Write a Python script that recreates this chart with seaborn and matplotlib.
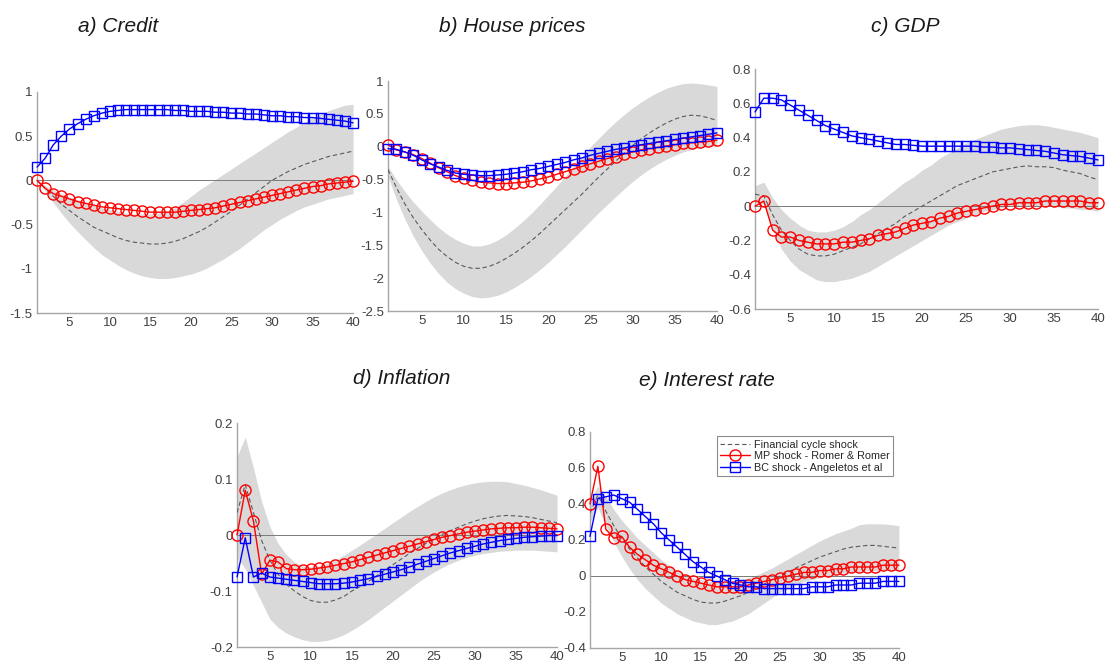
import numpy as np
import pandas as pd
import seaborn as sns
import matplotlib.pyplot as plt

# horizons
h = list(range(1, 41))

# a) Credit
credit_fc = [0.00, -0.09, -0.18, -0.27, -0.34, -0.41, -0.47, -0.53, -0.57, -0.61,
             -0.65, -0.68, -0.70, -0.71, -0.72, -0.72, -0.71, -0.69, -0.66, -0.62,
             -0.58, -0.53, -0.47, -0.41, -0.35, -0.28, -0.21, -0.14, -0.07, 0.00,
             0.05, 0.10, 0.14, 0.18, 0.21, 0.24, 0.27, 0.29, 0.31, 0.33]
credit_lo = [0.00, -0.12, -0.25, -0.37, -0.48, -0.58, -0.67, -0.76, -0.84, -0.90,
             -0.96, -1.01, -1.05, -1.08, -1.10, -1.11, -1.11, -1.10, -1.08, -1.06,
             -1.03, -0.99, -0.94, -0.89, -0.83, -0.77, -0.70, -0.63, -0.56, -0.50,
             -0.44, -0.39, -0.34, -0.30, -0.27, -0.24, -0.21, -0.19, -0.17, -0.15]
credit_hi = [0.00, -0.06, -0.11, -0.15, -0.19, -0.22, -0.25, -0.28, -0.31, -0.33,
             -0.35, -0.37, -0.38, -0.38, -0.38, -0.37, -0.35, -0.31, -0.25, -0.18,
             -0.11, -0.05, 0.01, 0.07, 0.13, 0.19, 0.25, 0.31, 0.37, 0.43,
             0.49, 0.55, 0.60, 0.66, 0.71, 0.75, 0.79, 0.82, 0.85, 0.86]
credit_mp = [0.00, -0.09, -0.15, -0.18, -0.21, -0.24, -0.26, -0.28, -0.30, -0.31,
             -0.32, -0.33, -0.34, -0.35, -0.36, -0.36, -0.36, -0.36, -0.35, -0.34,
             -0.33, -0.32, -0.31, -0.29, -0.27, -0.25, -0.23, -0.21, -0.19, -0.17,
             -0.15, -0.13, -0.11, -0.09, -0.07, -0.06, -0.04, -0.03, -0.02, -0.01]
credit_bc = [0.15, 0.25, 0.40, 0.50, 0.58, 0.64, 0.69, 0.73, 0.76, 0.78,
             0.79, 0.80, 0.80, 0.80, 0.80, 0.80, 0.80, 0.79, 0.79, 0.78,
             0.78, 0.78, 0.77, 0.77, 0.76, 0.76, 0.75, 0.75, 0.74, 0.73,
             0.73, 0.72, 0.72, 0.71, 0.71, 0.70, 0.69, 0.68, 0.67, 0.65]

# b) House prices
house_fc = [-0.35, -0.62, -0.87, -1.08, -1.26, -1.42, -1.56, -1.67, -1.76, -1.82,
            -1.85, -1.85, -1.82, -1.77, -1.70, -1.62, -1.53, -1.43, -1.32, -1.20,
            -1.08, -0.96, -0.84, -0.72, -0.59, -0.46, -0.34, -0.22, -0.10, 0.02,
            0.12, 0.21, 0.29, 0.36, 0.42, 0.46, 0.48, 0.47, 0.44, 0.40]
house_lo = [-0.45, -0.80, -1.10, -1.36, -1.58, -1.77, -1.93, -2.06, -2.16, -2.23,
            -2.28, -2.30, -2.29, -2.26, -2.21, -2.14, -2.06, -1.97, -1.87, -1.76,
            -1.64, -1.52, -1.39, -1.26, -1.13, -1.00, -0.88, -0.76, -0.64, -0.53,
            -0.43, -0.34, -0.26, -0.19, -0.13, -0.08, -0.04, -0.01, 0.00, 0.00]
house_hi = [-0.30, -0.50, -0.68, -0.84, -0.98, -1.11, -1.23, -1.33, -1.41, -1.47,
            -1.51, -1.51, -1.48, -1.42, -1.34, -1.24, -1.13, -1.01, -0.88, -0.74,
            -0.60, -0.45, -0.30, -0.15, 0.00, 0.13, 0.26, 0.38, 0.49, 0.59,
            0.68, 0.76, 0.83, 0.89, 0.93, 0.96, 0.97, 0.96, 0.94, 0.92]
house_mp = [0.03, -0.05, -0.08, -0.12, -0.18, -0.25, -0.32, -0.38, -0.44, -0.48,
            -0.51, -0.54, -0.55, -0.56, -0.56, -0.55, -0.54, -0.52, -0.49, -0.46,
            -0.42, -0.38, -0.34, -0.30, -0.26, -0.22, -0.18, -0.15, -0.11, -0.08,
            -0.05, -0.03, -0.01, 0.01, 0.03, 0.05, 0.06, 0.07, 0.08, 0.10]
house_bc = [-0.03, -0.04, -0.08, -0.13, -0.20, -0.26, -0.31, -0.36, -0.40, -0.42,
            -0.43, -0.44, -0.44, -0.43, -0.42, -0.40, -0.38, -0.35, -0.33, -0.30,
            -0.27, -0.24, -0.20, -0.17, -0.13, -0.10, -0.07, -0.04, -0.02, 0.01,
            0.03, 0.05, 0.07, 0.09, 0.11, 0.13, 0.15, 0.17, 0.19, 0.21]

# c) GDP
gdp_fc = [0.07, 0.06, -0.05, -0.14, -0.20, -0.25, -0.28, -0.29, -0.29, -0.28,
          -0.26, -0.24, -0.22, -0.19, -0.16, -0.13, -0.10, -0.06, -0.03, 0.00,
          0.03, 0.06, 0.09, 0.12, 0.14, 0.16, 0.18, 0.20, 0.21, 0.22,
          0.23, 0.235, 0.23, 0.23, 0.225, 0.21, 0.20, 0.19, 0.17, 0.155]
gdp_lo = [0.02, 0.01, -0.14, -0.25, -0.32, -0.37, -0.40, -0.43, -0.44, -0.44,
          -0.43, -0.42, -0.40, -0.38, -0.35, -0.32, -0.29, -0.26, -0.23, -0.20,
          -0.17, -0.14, -0.11, -0.09, -0.07, -0.05, -0.03, -0.02, -0.01, 0.00,
          0.00, 0.00, 0.00, 0.00, 0.00, -0.01, -0.01, -0.02, -0.02, -0.03]
gdp_hi = [0.12, 0.14, 0.05, -0.02, -0.07, -0.11, -0.14, -0.15, -0.15, -0.14,
          -0.12, -0.09, -0.05, -0.02, 0.02, 0.06, 0.10, 0.14, 0.17, 0.21,
          0.24, 0.28, 0.31, 0.34, 0.37, 0.39, 0.41, 0.43, 0.45, 0.46,
          0.47, 0.475, 0.475, 0.47, 0.46, 0.45, 0.44, 0.43, 0.415, 0.40]
gdp_mp = [0.00, 0.03, -0.14, -0.18, -0.18, -0.20, -0.21, -0.22, -0.22, -0.22,
          -0.21, -0.21, -0.20, -0.19, -0.17, -0.16, -0.15, -0.13, -0.11, -0.10,
          -0.09, -0.07, -0.06, -0.04, -0.03, -0.02, -0.01, 0.00, 0.01, 0.01,
          0.02, 0.02, 0.02, 0.03, 0.03, 0.03, 0.03, 0.03, 0.02, 0.02]
gdp_bc = [0.55, 0.63, 0.63, 0.62, 0.59, 0.56, 0.53, 0.50, 0.47, 0.45,
          0.43, 0.41, 0.40, 0.39, 0.38, 0.37, 0.36, 0.36, 0.355, 0.35,
          0.35, 0.35, 0.35, 0.35, 0.35, 0.35, 0.345, 0.345, 0.34, 0.34,
          0.335, 0.33, 0.325, 0.32, 0.31, 0.30, 0.295, 0.29, 0.28, 0.27]

# d) Inflation
infl_fc = [0.04, 0.09, 0.04, -0.01, -0.045, -0.07, -0.088, -0.10, -0.11, -0.117,
           -0.12, -0.12, -0.116, -0.11, -0.10, -0.092, -0.083, -0.073, -0.063, -0.053,
           -0.043, -0.033, -0.024, -0.015, -0.007, 0.001, 0.008, 0.014, 0.020, 0.025,
           0.029, 0.032, 0.034, 0.035, 0.034, 0.033, 0.031, 0.028, 0.025, 0.022]
infl_lo = [-0.04, -0.06, -0.09, -0.12, -0.15, -0.165, -0.175, -0.182, -0.187, -0.19,
           -0.19, -0.188, -0.184, -0.178, -0.17, -0.161, -0.151, -0.14, -0.129, -0.118,
           -0.107, -0.096, -0.085, -0.075, -0.066, -0.058, -0.051, -0.045, -0.040, -0.036,
           -0.033, -0.031, -0.029, -0.028, -0.027, -0.027, -0.027, -0.028, -0.029, -0.030]
infl_hi = [0.14, 0.175, 0.12, 0.06, 0.015, -0.015, -0.035, -0.048, -0.055, -0.057,
           -0.055, -0.05, -0.044, -0.036, -0.027, -0.018, -0.008, 0.002, 0.012, 0.022,
           0.032, 0.042, 0.051, 0.06, 0.068, 0.075, 0.081, 0.086, 0.090, 0.093,
           0.095, 0.096, 0.096, 0.095, 0.092, 0.089, 0.085, 0.081, 0.076, 0.071]
infl_mp = [0.00, 0.08, 0.025, -0.07, -0.045, -0.048, -0.06, -0.062, -0.062, -0.061,
           -0.059, -0.057, -0.054, -0.051, -0.048, -0.044, -0.040, -0.036, -0.032, -0.028,
           -0.024, -0.020, -0.016, -0.012, -0.008, -0.004, -0.001, 0.002, 0.005, 0.007,
           0.009, 0.011, 0.012, 0.013, 0.013, 0.014, 0.014, 0.013, 0.012, 0.011]
infl_bc = [-0.075, -0.005, -0.075, -0.068, -0.075, -0.077, -0.079, -0.081, -0.083, -0.085,
           -0.087, -0.087, -0.087, -0.086, -0.084, -0.081, -0.078, -0.074, -0.070, -0.066,
           -0.062, -0.057, -0.052, -0.047, -0.042, -0.037, -0.032, -0.028, -0.024, -0.020,
           -0.016, -0.013, -0.010, -0.008, -0.006, -0.004, -0.003, -0.002, -0.001, -0.001]

# e) Interest rate
rate_fc = [0.35, 0.45, 0.36, 0.28, 0.21, 0.15, 0.10, 0.05, 0.01, -0.03,
           -0.06, -0.09, -0.11, -0.13, -0.145, -0.15, -0.15, -0.14, -0.125, -0.11,
           -0.09, -0.07, -0.045, -0.02, 0.00, 0.02, 0.045, 0.065, 0.085, 0.105,
           0.12, 0.135, 0.15, 0.16, 0.165, 0.17, 0.17, 0.165, 0.16, 0.155]
rate_lo = [0.30, 0.38, 0.28, 0.19, 0.11, 0.04, -0.02, -0.07, -0.11, -0.15,
           -0.18, -0.21, -0.23, -0.25, -0.26, -0.27, -0.27, -0.26, -0.25, -0.23,
           -0.21, -0.18, -0.15, -0.12, -0.09, -0.07, -0.05, -0.03, -0.02, -0.01,
           0.00, 0.01, 0.015, 0.02, 0.025, 0.03, 0.03, 0.03, 0.03, 0.03]
rate_hi = [0.42, 0.50, 0.44, 0.37, 0.31, 0.26, 0.21, 0.17, 0.13, 0.09,
           0.06, 0.03, 0.01, -0.01, -0.02, -0.03, -0.035, -0.035, -0.03, -0.02,
           -0.01, 0.005, 0.025, 0.045, 0.07, 0.095, 0.12, 0.145, 0.17, 0.195,
           0.215, 0.235, 0.25, 0.265, 0.285, 0.29, 0.29, 0.29, 0.285, 0.28]
rate_mp = [0.40, 0.61, 0.26, 0.21, 0.22, 0.16, 0.12, 0.09, 0.06, 0.04,
           0.02, 0.00, -0.02, -0.03, -0.04, -0.05, -0.06, -0.06, -0.06, -0.06,
           -0.05, -0.04, -0.03, -0.02, -0.01, 0.00, 0.01, 0.02, 0.02, 0.03,
           0.03, 0.04, 0.04, 0.05, 0.05, 0.05, 0.05, 0.06, 0.06, 0.06]
rate_bc = [0.22, 0.43, 0.44, 0.45, 0.43, 0.41, 0.37, 0.33, 0.29, 0.24,
           0.20, 0.16, 0.12, 0.08, 0.05, 0.02, 0.00, -0.02, -0.04, -0.05,
           -0.06, -0.06, -0.07, -0.07, -0.07, -0.07, -0.07, -0.07, -0.06, -0.06,
           -0.06, -0.05, -0.05, -0.05, -0.04, -0.04, -0.04, -0.03, -0.03, -0.03]

titles = ['a) Credit', 'b) House prices', 'c) GDP', 'd) Inflation', 'e) Interest rate']
ylims = [(-1.5, 1), (-2.5, 1), (-0.6, 0.8), (-0.2, 0.2), (-0.4, 0.8)]
yticks = [[-1.5, -1, -0.5, 0, 0.5, 1],
          [-2.5, -2, -1.5, -1, -0.5, 0, 0.5, 1],
          [-0.6, -0.4, -0.2, 0, 0.2, 0.4, 0.6, 0.8],
          [-0.2, -0.1, 0, 0.1, 0.2],
          [-0.4, -0.2, 0, 0.2, 0.4, 0.6, 0.8]]
panels = [(credit_fc, credit_lo, credit_hi, credit_mp, credit_bc),
          (house_fc, house_lo, house_hi, house_mp, house_bc),
          (gdp_fc, gdp_lo, gdp_hi, gdp_mp, gdp_bc),
          (infl_fc, infl_lo, infl_hi, infl_mp, infl_bc),
          (rate_fc, rate_lo, rate_hi, rate_mp, rate_bc)]

sns.set_style('white')
plt.rcParams['font.family'] = ['Liberation Sans', 'DejaVu Sans']

fig = plt.figure(figsize=(11.05, 6.64), dpi=100)
boxes = [[0.0335, 0.5286, 0.2860, 0.3330],
         [0.3511, 0.5316, 0.2977, 0.3464],
         [0.6833, 0.5346, 0.3104, 0.3614],
         [0.2145, 0.0256, 0.2896, 0.3373],
         [0.5339, 0.0241, 0.2796, 0.3253]]
title_pos = [(118, 27), (512, 27), (905, 27), (402, 379), (707, 380)]

for i, (fc, lo, hi, mp, bc) in enumerate(panels):
    ax = fig.add_axes(boxes[i])
    ax.fill_between(h, lo, hi, color='#d9d9d9', linewidth=0, zorder=1)
    if i != 1:
        ax.axhline(0, color='#7a7a7a', lw=0.7, zorder=2)
    sns.lineplot(x=h, y=fc, ax=ax, color='#5a5a5a', lw=0.8, dashes=False,
                 linestyle=(0, (4, 2.5)), label='Financial cycle shock',
                 legend=False, zorder=3)
    sns.lineplot(x=h, y=mp, ax=ax, color='red', lw=1, marker='o', markersize=8,
                 markerfacecolor='none', markeredgecolor='red', markeredgewidth=1,
                 label='MP shock - Romer & Romer', legend=False, zorder=4,
                 clip_on=False)
    sns.lineplot(x=h, y=bc, ax=ax, color='blue', lw=1, marker='s', markersize=7,
                 markerfacecolor='none', markeredgecolor='blue', markeredgewidth=1,
                 label='BC shock - Angeletos et al', legend=False, zorder=5,
                 clip_on=False)
    ax.set_xlim(1, 40)
    ax.set_ylim(*ylims[i])
    ax.set_xticks([5, 10, 15, 20, 25, 30, 35, 40])
    ax.set_yticks(yticks[i])
    ax.set_yticklabels([f'{v:g}' for v in yticks[i]])
    ax.set_xlabel('')
    ax.set_ylabel('')
    for s in ['top', 'right']:
        ax.spines[s].set_visible(False)
    for s in ['left', 'bottom']:
        ax.spines[s].set_color('#a6a6a6')
        ax.spines[s].set_linewidth(1)
    ax.tick_params(direction='in', length=3, width=0.8, color='#a6a6a6',
                   labelsize=9.5, labelcolor='#404040', pad=3)
    ax.patch.set_alpha(0)
    fig.text(title_pos[i][0] / 1105, 1 - title_pos[i][1] / 664, titles[i],
             ha='center', va='center', style='italic', fontsize=15, color='#1a1a1a')
    if i == 4:
        leg = ax.legend(loc='upper right', bbox_to_anchor=(0.98, 0.98), borderaxespad=0,
                        fontsize=7.8, frameon=True, fancybox=False, framealpha=1,
                        edgecolor='#8c8c8c', handlelength=2.8, handletextpad=0.3,
                        labelspacing=0.15, borderpad=0.3)
        leg.get_frame().set_linewidth(0.8)

fig.savefig('out.png', dpi=100)
